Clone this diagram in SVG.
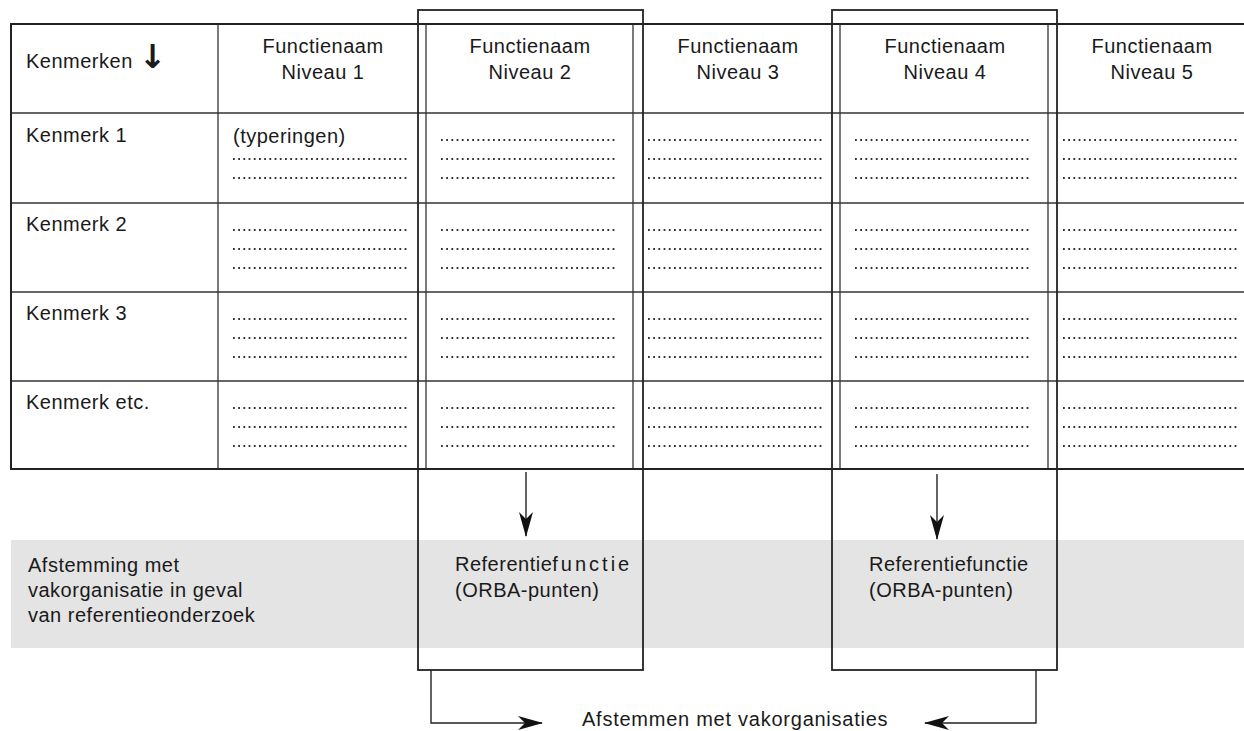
<svg xmlns="http://www.w3.org/2000/svg" width="1244" height="731" viewBox="0 0 1244 731">
<style>
text{font-family:"Liberation Sans",Arial,sans-serif;font-size:20px;fill:#1a1a1a;letter-spacing:0.5px}
.c{text-anchor:middle}
.outer{stroke:#222;stroke-width:2;fill:none}
.inner{stroke:#333;stroke-width:1.3;fill:none}
.box{stroke:#222;stroke-width:1.8;fill:none}
.dots{stroke:#333;stroke-width:1.8;stroke-dasharray:1.8 3.4;fill:none}
.conn{stroke:#222;stroke-width:1.4;fill:none}
</style>
<defs>
<marker id="ah" viewBox="0 0 25 14" markerWidth="25" markerHeight="14" refX="24" refY="7" orient="auto" markerUnits="userSpaceOnUse">
<path d="M0,0 L25,7 L0,14 L7,7 Z" fill="#111"/>
</marker>
</defs>
<g id="band"><rect x="11" y="540" width="1233" height="108" fill="#e4e4e4"/></g>
<g id="table">
<line class="inner" x1="11" y1="113" x2="1244" y2="113"/>
<line class="inner" x1="11" y1="203" x2="1244" y2="203"/>
<line class="inner" x1="11" y1="292" x2="1244" y2="292"/>
<line class="inner" x1="11" y1="381" x2="1244" y2="381"/>
<line class="inner" x1="218" y1="24" x2="218" y2="469"/>
<line class="inner" x1="426" y1="24" x2="426" y2="469"/>
<line class="inner" x1="633" y1="24" x2="633" y2="469"/>
<line class="inner" x1="840" y1="24" x2="840" y2="469"/>
<line class="inner" x1="1048" y1="24" x2="1048" y2="469"/>
<line class="outer" x1="11" y1="24" x2="1244" y2="24"/>
<line class="outer" x1="11" y1="469" x2="1244" y2="469"/>
<line class="outer" x1="11" y1="23" x2="11" y2="470"/>
</g>
<g id="box-niveau2"><rect class="box" x="418" y="10" width="225" height="660"/></g>
<g id="box-niveau4"><rect class="box" x="832" y="10" width="225" height="660"/></g>
<g id="header">
<text x="26" y="68">Kenmerken <tspan style="font-family:'DejaVu Sans',sans-serif;font-size:33px;font-weight:bold">↓</tspan></text>
<text class="c" x="323" y="53">Functienaam</text><text class="c" x="323" y="79">Niveau 1</text>
<text class="c" x="530" y="53">Functienaam</text><text class="c" x="530" y="79">Niveau 2</text>
<text class="c" x="738" y="53">Functienaam</text><text class="c" x="738" y="79">Niveau 3</text>
<text class="c" x="945" y="53">Functienaam</text><text class="c" x="945" y="79">Niveau 4</text>
<text class="c" x="1152" y="53">Functienaam</text><text class="c" x="1152" y="79">Niveau 5</text>
</g>
<g id="rows">
<text x="26" y="142">Kenmerk 1</text>
<text x="26" y="231">Kenmerk 2</text>
<text x="26" y="320">Kenmerk 3</text>
<text x="26" y="409">Kenmerk etc.</text>
<text x="233" y="143">(typeringen)</text>
</g>
<g id="dots">
<path class="dots" d="M233,159H409M233,178H409
M441,140H616M441,159H616M441,178H616
M648,140H823M648,159H823M648,178H823
M855,140H1030M855,159H1030M855,178H1030
M1063,140H1238M1063,159H1238M1063,178H1238
M233,230H409M233,249H409M233,268H409
M441,230H616M441,249H616M441,268H616
M648,230H823M648,249H823M648,268H823
M855,230H1030M855,249H1030M855,268H1030
M1063,230H1238M1063,249H1238M1063,268H1238
M233,319H409M233,338H409M233,357H409
M441,319H616M441,338H616M441,357H616
M648,319H823M648,338H823M648,357H823
M855,319H1030M855,338H1030M855,357H1030
M1063,319H1238M1063,338H1238M1063,357H1238
M233,408H409M233,427H409M233,446H409
M441,408H616M441,427H616M441,446H616
M648,408H823M648,427H823M648,446H823
M855,408H1030M855,427H1030M855,446H1030
M1063,408H1238M1063,427H1238M1063,446H1238"/>
</g>
<g id="band-label">
<text x="28" y="572">Afstemming met</text>
<text x="28" y="597">vakorganisatie in geval</text>
<text x="28" y="622">van referentieonderzoek</text>
</g>
<g id="ref2">
<text x="455" y="571">Referentie<tspan style="letter-spacing:3px">functie</tspan></text>
<text x="455" y="597">(ORBA-punten)</text>
</g>
<g id="ref4">
<text x="869" y="571">Referentiefunctie</text>
<text x="869" y="597">(ORBA-punten)</text>
</g>
<g id="bottom-label">
<text x="582" y="726" style="letter-spacing:0.75px">Afstemmen met vakorganisaties</text>
</g>
<g id="connectors">
<path class="conn" d="M526,472V536" marker-end="url(#ah)"/>
<path class="conn" d="M937,474V539" marker-end="url(#ah)"/>
<path class="conn" d="M431,670V723H542" marker-end="url(#ah)"/>
<path class="conn" d="M1036,670V723H925" marker-end="url(#ah)"/>
</g>
</svg>
